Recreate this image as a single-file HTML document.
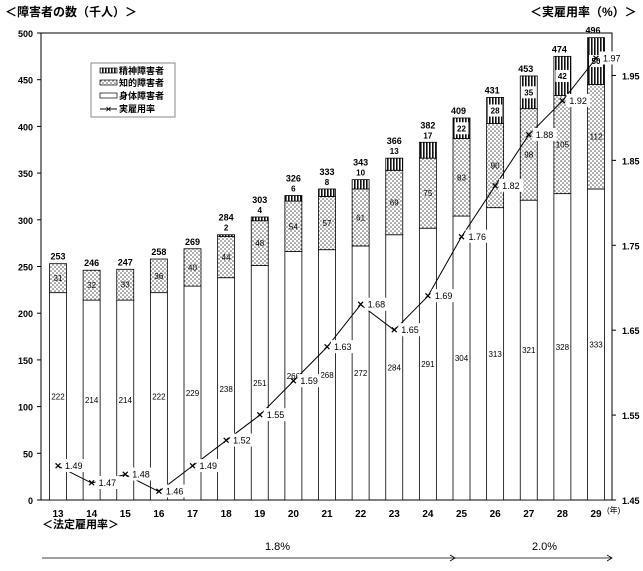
<!DOCTYPE html>
<html><head><meta charset="utf-8"><style>
body{margin:0;background:#fff}
svg{font-family:"Liberation Sans","Noto Sans CJK JP",sans-serif}
</style></head><body>
<svg id="chart" width="643" height="566" viewBox="0 0 643 566" xmlns="http://www.w3.org/2000/svg">
<defs>
<pattern id="dots" width="4" height="4" patternUnits="userSpaceOnUse"><rect width="4" height="4" fill="#fff"/><circle cx="1" cy="1" r="0.8" fill="#555"/><circle cx="3" cy="3" r="0.8" fill="#555"/></pattern>
<pattern id="stripes" width="3" height="4" patternUnits="userSpaceOnUse"><rect width="3" height="4" fill="#fff"/><rect width="1.6" height="4" fill="#111"/></pattern>
</defs>
<text x="5" y="16" font-size="12" font-weight="bold">＜障害者の数（千人）＞</text>
<text x="530" y="16" font-size="12" font-weight="bold">＜実雇用率（%）＞</text>
<rect x="41" y="33" width="571" height="467" fill="none" stroke="#000" stroke-width="1"/>
<g id="axes"></g>
<g id="bars"></g>
<g id="line"></g>
<g>
<rect x="91" y="63" width="84" height="54" fill="#fff" stroke="#888"/>
<rect x="100" y="68" width="17" height="5" fill="url(#stripes)" stroke="#000" stroke-width="0.7"/><text x="119" y="74" font-size="9" font-weight="bold">精神障害者</text>
<rect x="100" y="80" width="17" height="5" fill="url(#dots)" stroke="#000" stroke-width="0.7"/><text x="119" y="86" font-size="9" font-weight="bold">知的障害者</text>
<rect x="100" y="93" width="17" height="5" fill="#fff" stroke="#000" stroke-width="0.7"/><text x="119" y="99" font-size="9" font-weight="bold">身体障害者</text>
<line x1="100" y1="109" x2="117" y2="109" stroke="#000"/><text x="108.5" y="112" font-size="8" text-anchor="middle">✕</text><text x="119" y="112" font-size="9" font-weight="bold">実雇用率</text>
</g>
<text x="42" y="528" font-size="11" font-weight="bold">＜法定雇用率＞</text>
<text x="265" y="550" font-size="11">1.8%</text>
<text x="532" y="550" font-size="11">2.0%</text>
<g stroke="#000" fill="none" stroke-width="0.8">
<line x1="42" y1="558" x2="455" y2="558"/><polyline points="450,555 455,558 450,561"/>
<line x1="455" y1="558" x2="612" y2="558"/><polyline points="607,555 612,558 607,561"/>
</g>
</svg>
<script>
const years=["13","14","15","16","17","18","19","20","21","22","23","24","25","26","27","28","29"];
const physical=[222,214,214,222,229,238,251,266,268,272,284,291,304,313,321,328,333];
const intellectual=[31,32,33,36,40,44,48,54,57,61,69,75,83,90,98,105,112];
const mental=[0,0,0,0,0,2,4,6,8,10,13,17,22,28,35,42,50];
const totals=[253,246,247,258,269,284,303,326,333,343,366,382,409,431,453,474,496];
const rates=[1.49,1.47,1.48,1.46,1.49,1.52,1.55,1.59,1.63,1.68,1.65,1.69,1.76,1.82,1.88,1.92,1.97];
const leftTicks=[0,50,100,150,200,250,300,350,400,450,500];
const rightTicks=[1.45,1.55,1.65,1.75,1.85,1.95];
const NS="http://www.w3.org/2000/svg";
const x0=41,x1=612,yB=500,yT=33;
const xc=i=>58+i*(538/(years.length-1));
const yL=v=>yB-(v/500)*(yB-yT);
const yR=v=>yB-((v-1.45)/0.55)*(yB-yT);
function mk(tag,attrs,parent,txt){const e=document.createElementNS(NS,tag);for(const k in attrs)e.setAttribute(k,attrs[k]);if(txt!==undefined)e.textContent=txt;parent.appendChild(e);return e;}
const axes=document.getElementById('axes'),bars=document.getElementById('bars'),line=document.getElementById('line');
leftTicks.forEach(v=>{const y=yL(v);
mk('line',{x1:x0-4,x2:x0,y1:y,y2:y,stroke:'#000'},axes);
const t=mk('text',{x:x0-8,y:y+4,'font-size':9,'font-weight':'bold','text-anchor':'end'},axes,v);

});
rightTicks.forEach(v=>{const y=yR(v);
mk('line',{x1:x1,x2:x1+4,y1:y,y2:y,stroke:'#000'},axes);
const t=mk('text',{x:x1+10,y:y+4,'font-size':9,'font-weight':'bold'},axes,v.toFixed(2));

});
years.forEach((yr,i)=>{const t=mk('text',{x:xc(i),y:517,'font-size':10,'font-weight':'bold','text-anchor':'middle'},axes,yr);

});
mk('text',{x:607,y:513,'font-size':8},axes,'(年)');
const bw=17;
years.forEach((yr,i)=>{
 const cx=xc(i),bx=cx-bw/2;
 const p=physical[i],q=intellectual[i],m=mental[i];
 const top=p+q+m;
 const r1=mk('rect',{x:bx,y:yL(p),width:bw,height:yL(0)-yL(p),fill:'#fff',stroke:'#000','stroke-width':0.8},bars);
 
 
 const r2=mk('rect',{x:bx,y:yL(p+q),width:bw,height:yL(p)-yL(p+q),fill:'url(#dots)',stroke:'#000','stroke-width':0.8},bars);
 
 
 if(m>0){const r3=mk('rect',{x:bx,y:yL(top),width:bw,height:yL(p+q)-yL(top),fill:'url(#stripes)',stroke:'#000','stroke-width':0.8},bars);
 
 }
 mk('text',{x:cx,y:(yL(p)+yL(0))/2+3,'font-size':8,'text-anchor':'middle'},bars,p);
 mk('text',{x:cx,y:(yL(p)+yL(p+q))/2+3,'font-size':8,'text-anchor':'middle'},bars,q);
 const tot=totals[i];
 if(m>=20){const my=(yL(p+q)+yL(top))/2;mk('rect',{x:cx-7,y:my-6,width:14,height:12,fill:'#fff'},bars);mk('text',{x:cx,y:my+3,'font-size':8,'font-weight':'bold','text-anchor':'middle'},bars,m);
  mk('text',{x:cx-3,y:yL(top)-4,'font-size':9,'font-weight':'bold','text-anchor':'middle'},bars,tot);}
 else if(m>0){mk('text',{x:cx,y:yL(top)-4,'font-size':8,'font-weight':'bold','text-anchor':'middle'},bars,m);
  mk('text',{x:cx,y:yL(top)-14,'font-size':9,'font-weight':'bold','text-anchor':'middle'},bars,tot);}
 else mk('text',{x:cx,y:yL(top)-4,'font-size':9,'font-weight':'bold','text-anchor':'middle'},bars,tot);
});
const pts=rates.map((r,i)=>xc(i)+','+yR(r)).join(' ');
const pl=mk('polyline',{points:pts,fill:'none',stroke:'#000','stroke-width':1},line);


rates.forEach((r,i)=>{const x=xc(i),y=yR(r);
 mk('rect',{x:x+4,y:y-7,width:24,height:13,fill:'#fff'},line);
 const mkr=mk('text',{x:x,y:y+3,'font-size':9,'text-anchor':'middle','font-weight':'bold'},line,'✕');
 
 
 mk('text',{x:x+7,y:y+3,'font-size':9},line,r.toFixed(2));
});
</script>
</body></html>
